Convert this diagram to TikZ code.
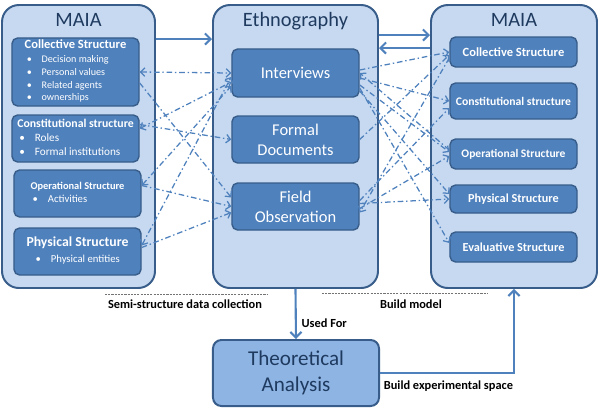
\documentclass[tikz,border=0pt]{standalone}
\usepackage{fontspec}
\setmainfont{Carlito}
\usetikzlibrary{arrows.meta,calc,fit}
\definecolor{frame}{HTML}{385D8A}
\definecolor{pale}{HTML}{C6D9F1}
\definecolor{accent}{HTML}{4F81BD}
\definecolor{navy}{HTML}{1F3A5F}
\definecolor{mid}{HTML}{8EB4E3}
\newcommand{\itembul}{\hspace{1.5pt}\textbullet\hspace{7pt}}
\tikzset{
  container/.style={draw=frame, fill=pale, line width=1.4pt, rounded corners=12pt, inner sep=0pt},
  heading/.style={text=navy, font=\fontsize{14.5}{16}\selectfont, anchor=base},
  part/.style={draw=frame, fill=accent, line width=1pt, rounded corners=4pt, inner sep=0pt, text=white, minimum width=3.175cm},
  leftbox/.style={part, minimum height=1.175cm, font=\fontsize{7.2}{9}\selectfont},
  midbox/.style={part, minimum height=1.175cm, align=center, font=\fontsize{11.7}{14}\selectfont},
  rightbox/.style={part, minimum height=0.75cm, font=\bfseries\fontsize{8.9}{10}\selectfont},
  analysis/.style={draw=frame, fill=mid, line width=1.4pt, rounded corners=6pt, inner sep=0pt, minimum width=4.15cm, minimum height=1.65cm, text=navy, align=center, font=\fontsize{15}{18.5}\selectfont},
  flow/.style={draw=accent, line width=1.5pt, >={Straight Barb[length=4pt,width=8pt]}, ->},
  link/.style={draw=accent, line width=0.9pt, dash pattern=on 4pt off 2pt on 1pt off 2pt, >={Straight Barb[length=3pt,width=6pt]}, ->},
  note/.style={font=\bfseries\fontsize{8.8}{10}\selectfont},
  rule/.style={draw=black!55, line width=0.6pt, dash pattern=on 1.5pt off 0.8pt}
}
\begin{document}
\begin{tikzpicture}[x=0.025cm, y=-0.025cm]
\useasboundingbox (0,0) rectangle (600,410);
% Containers
\node[container, fit={(2,5) (155,288)}] (lmaia) {};
\node[container, fit={(213,5) (378,288)}] (ethno) {};
\node[container, fit={(431,5) (597,288)}] (rmaia) {};
\node[heading] (ltitle) at ($(lmaia.north)+(0,22)$) {MAIA};
\node[heading] (etitle) at ($(ethno.north)+(0,22)$) {Ethnography};
\node[heading] (rtitle) at ($(rmaia.north)+(0,22)$) {MAIA};
% Left structures
\node[leftbox, minimum height=1.7cm] (lcoll) at (75.5,72) {\begin{tabular}{@{}l@{}}{\bfseries\fontsize{8.9}{10}\selectfont Collective Structure}\\[1.3pt]
  \itembul Decision making\\ \itembul Personal values\\ \itembul Related agents\\ \itembul ownerships\end{tabular}};
\node[leftbox, font=\fontsize{8}{10}\selectfont] (lconst) at (75.5,138.5) {\begin{tabular}{@{}l@{}}{\bfseries\fontsize{8.4}{10}\selectfont Constitutional structure}\\
  \itembul Roles\\ \itembul Formal institutions\end{tabular}};
\node[leftbox, font=\fontsize{7.6}{9.3}\selectfont] (loper) at (77.5,193.5) {\begin{tabular}{@{}l@{}}{\bfseries\fontsize{7.4}{9}\selectfont Operational Structure}\\
  \itembul Activities\end{tabular}};
\node[leftbox, font=\fontsize{7.6}{10.7}\selectfont] (lphys) at (77.5,251.5) {\begin{tabular}{@{}l@{}}{\bfseries\fontsize{9.8}{11}\selectfont Physical Structure}\\
  \hspace{5pt}\itembul Physical entities\end{tabular}};
% Methods
\node[midbox, minimum height=1.2cm] (int) at (295.5,73) {Interviews};
\node[midbox] (form) at (295.5,139.5) {Formal\\Documents};
\node[midbox] (field) at (295.5,206.5) {Field\\Observation};
% Right structures
\node[rightbox] (rcoll) at (513.5,52) {Collective Structure};
\node[rightbox, minimum height=0.9cm, font=\bfseries\fontsize{8.3}{10}\selectfont] (rconst) at (513.5,101) {Constitutional structure};
\node[rightbox, font=\bfseries\fontsize{8.2}{10}\selectfont] (roper) at (513.5,154) {Operational Structure};
\node[rightbox, minimum height=0.7cm, font=\bfseries\fontsize{8.7}{10}\selectfont] (rphys) at (513.5,199) {Physical Structure};
\node[rightbox, font=\bfseries\fontsize{8.7}{10}\selectfont] (reval) at (513.5,247) {Evaluative Structure};
% Analysis
\node[analysis] (theory) at (296,373) {Theoretical\\Analysis};
% Main flows
\coordinate (lout) at ($(lmaia.north east)+(0,35)$);
\coordinate (eout) at ($(ethno.north east)+(0,31)$);
\coordinate (rback) at ($(rmaia.north west)+(0,44)$);
\draw[flow] (lout) -- (lout -| ethno.west);
\draw[flow] (eout) -- (eout -| rmaia.west);
\draw[flow] (rback) -- (rback -| ethno.east);
\draw[flow] (ethno.south) -- node[note, right, pos=0.68] (usedfor) {Used For} (theory.north);
\draw[flow] (theory.east) -- node[note, anchor=north west, pos=0, inner sep=2pt, yshift=-3pt] (buildspace) {Build experimental space} (theory.east -| rmaia.south) -- (rmaia.south);
% Data collection links
\draw[link, <->] (lcoll.east) -- (int.west);
\draw[link] ($(lcoll.east)+(0,11)$) -- ($(field.west)+(0,-9)$);
\draw[link, <->] ($(lconst.east)+(0,-10)$) -- ($(int.west)+(0,9)$);
\draw[link] ($(lconst.east)+(0,-14)$) -- (form.west);
\draw[link, <->] ($(loper.east)+(0,-8)$) -- ($(int.west)+(0,13)$);
\draw[link] ($(loper.east)+(0,-8)$) -- (field.west);
\draw[link, <->] ($(lphys.east)+(0,-6)$) -- ($(int.west)+(0,4)$);
\draw[link] ($(lphys.east)+(0,-4)$) -- ($(field.west)+(0,6)$);
% Model links
\draw[link] ($(int.east)+(0,-3)$) -- (rcoll.west);
\draw[link] ($(int.east)+(0,5)$) -- (rconst.west);
\draw[link] (form.east) -- ($(rcoll.west)+(0,3)$);
\draw[link] ($(field.east)+(0,-3)$) -- (rphys.west);
\draw[link] ($(int.east)+(0,12)$) -- ($(roper.west)+(0,-2)$);
\draw[link] ($(int.east)+(0,15)$) -- ($(reval.west)+(0,-4)$);
\draw[link] ($(field.east)+(0,-6)$) -- ($(rconst.west)+(0,7)$);
\draw[link] ($(field.east)+(0,2)$) -- ($(roper.west)+(0,2)$);
\draw[link] ($(rcoll.west)+(0,6)$) -- ($(field.east)+(0,6)$);
\draw[link] ($(roper.west)+(0,-4)$) -- (int.east);
\draw[link] ($(int.east)+(0,18)$) -- ($(rphys.west)+(0,-5)$);
% Phase labels
\draw[rule] (105,294) -- (268,294);
\draw[rule] (322,293) -- (487,293);
\node[note] (semilabel) at (185,304) {Semi-structure data collection};
\node[note] (modellabel) at (411,304) {Build model};
\end{tikzpicture}
\end{document}
